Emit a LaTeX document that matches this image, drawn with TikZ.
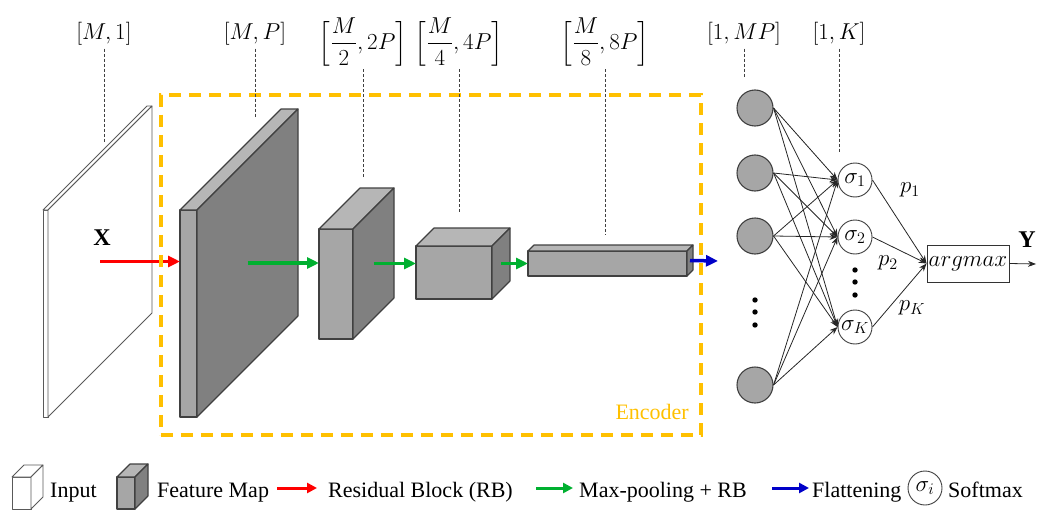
\documentclass[tikz,border=0pt]{standalone}
\usepackage{fix-cm}
\usepackage{amsmath}
\usepackage{fontspec}
\setmainfont{Liberation Serif}
\usetikzlibrary{
  arrows.meta,
  positioning,
  calc
}
\definecolor{encorange}{RGB}{255,192,0}
\definecolor{rbred}{RGB}{255,0,0}
\definecolor{mpgreen}{RGB}{0,176,48}
\definecolor{flblue}{RGB}{0,0,200}
\definecolor{frontgray}{RGB}{166,166,166}
\definecolor{topgray}{RGB}{182,182,182}
\definecolor{sidegray}{RGB}{128,128,128}
\definecolor{edgegray}{RGB}{64,64,64}
\newcommand{\mathsz}{\fontsize{23}{27}\selectfont}
\newcommand{\dimfrac}[2]{\delimiterfactor=700 \delimitershortfall=20pt
  \left[\dfrac{M}{#1},#2\right]}
\tikzset{
  face/.style={draw=edgegray, line width=1.1pt, line join=round},
  frontface/.style={face, inner sep=0pt, outer sep=0pt, anchor=north west},
  flowarr/.style={-{Triangle[length=12pt,width=11pt]}, line width=3.5pt},
  legarr/.style={-{Triangle[length=10pt,width=10pt]}, line width=3pt},
  guide/.style={dash pattern=on 3pt off 2pt, line width=0.7pt, black!75},
  dimlab/.style={font=\mathsz, inner sep=1pt},
  neuron/.style={circle, draw=edgegray, line width=1.1pt, fill=frontgray,
    minimum size=36pt, inner sep=0pt},
  softnode/.style={circle, draw=edgegray, line width=0.9pt, fill=white,
    minimum size=34pt, inner sep=0pt, font=\mathsz},
  nnedge/.style={-{Stealth[length=8pt,width=6pt]}, line width=0.8pt, black!85},
  legtext/.style={font=\fontsize{22}{26}\selectfont, inner sep=0pt, anchor=base west},
}
% front face as a named node, top and side faces drawn from its anchors
\newcommand{\cuboid}[9]{%
  \node[frontface, fill=#7, minimum width=#4pt, minimum height=#5pt] (#1) at (#2,#3) {};
  \filldraw[face, fill=#8] (#1.north west) -- ++(#6,-#6) -- ++(#4,0) -- (#1.north east) -- cycle;
  \filldraw[face, fill=#9] (#1.north east) -- ++(#6,-#6) -- ++(0,#5) -- (#1.south east) -- cycle;
  \coordinate (#1-out) at ($(#1.east)+(#6/2,-#6/2)$);
}

\begin{document}
\begin{tikzpicture}[x=1pt, y=-1pt]
  \useasboundingbox (0,0) rectangle (1044,511);

  % Input and feature maps
  \begin{scope}[face/.append style={draw=black!65, line width=0.8pt}]
    \cuboid{inp}{43}{210}{5}{207}{104}{white}{white}{white}
  \end{scope}
  \cuboid{fm1}{180}{210}{17}{207}{101}{frontgray}{topgray}{sidegray}
  \cuboid{fm2}{319}{229}{34}{110}{41}{frontgray}{topgray}{sidegray}
  \cuboid{fm3}{416}{246}{76}{53}{18}{frontgray}{topgray}{sidegray}
  \cuboid{fm4}{528}{251}{159}{25}{6}{frontgray}{topgray}{sidegray}

  \node[font=\fontsize{24}{28}\selectfont\bfseries] (xlab) at (102,238) {X};

  % Encoder flow
  \coordinate (flat-end) at (718,261);
  \draw[flowarr, rbred] (inp-out) -- (inp-out -| fm1.west);
  \foreach \a/\b in {fm1/fm2, fm2/fm3, fm3/fm4} {
    \draw[flowarr, mpgreen] (\a-out) -- (\a-out -| \b.west);
  }
  \draw[flowarr, flblue] (fm4-out) -- (flat-end);

  \node[draw=encorange, line width=3.5pt, dash pattern=on 12pt off 8pt,
        minimum width=540pt, minimum height=340pt, inner sep=0pt,
        anchor=north west] (enc) at (159,93) {};
  \node[font=\fontsize{22}{26}\selectfont, text=encorange, inner sep=0pt,
        anchor=base east] (enclab) at (689,419) {Encoder};

  % Shape labels
  \foreach \nm/\xx/\yy/\yend/\txt in {
      din/104/34/142/{$[M,1]$},
      dfm1/255/34/117/{$[M,P]$},
      dfm2/363/42/179/{$\dimfrac{2}{2P}$},
      dfm3/459/42/213/{$\dimfrac{4}{4P}$},
      dfm4/605/42/235/{$\dimfrac{8}{8P}$},
      dmp/744/34/77/{$[1,MP]$},
      dk/839/34/153/{$[1,K]$}} {
    \node[dimlab] (\nm) at (\xx,\yy) {\txt};
    \coordinate (\nm-end) at (\xx,\yend);
    \draw[guide] ([yshift=-2pt]\nm.south) -- (\nm-end);
  }

  % Dense layer
  \foreach \i/\yy in {1/108, 2/173, 3/236, 4/385} {
    \node[neuron] (n\i) at (755,\yy) {};
  }
  \foreach \yy in {300,312,325} {
    \fill (755,\yy) circle (2.7pt);
  }
  \node[softnode] (s1) at (855,180) {$\sigma_1$};
  \node[softnode] (s2) at (855,237) {$\sigma_2$};
  \node[softnode] (sK) at (855,327) {$\sigma_K$};
  \foreach \yy in {270,282,295} {
    \fill (855,\yy) circle (2.7pt);
  }
  \foreach \i in {1,...,4} {
    \foreach \j in {1,2,K} {
      \draw[nnedge] (n\i.east) -- (s\j.west);
    }
  }

  \node[draw=black!80, line width=0.9pt, minimum width=82pt, minimum height=37pt,
        inner sep=0pt, font=\mathsz] (am) at (968,263.5) {$argmax$};
  \foreach \j in {1,2,K} {
    \draw[nnedge] (s\j.east) -- (am.west);
  }
  \node[font=\mathsz] (p1) at (910,190) {$p_1$};
  \node[font=\mathsz] (p2) at (888,263) {$p_2$};
  \node[font=\mathsz] (pK) at (912,308) {$p_K$};

  \coordinate (y-end) at (1036,264);
  \draw[nnedge] (am.east) -- (y-end);
  \node[font=\fontsize{24}{28}\selectfont\bfseries] (ylab) at (1027,240) {Y};

  % Legend
  \begin{scope}[face/.append style={draw=black!65, line width=0.8pt}]
    \cuboid{lg-in}{12}{477}{19}{32}{12}{white}{white}{white}
  \end{scope}
  \node[legtext] (t-in) at (50,497) {Input};
  \cuboid{lg-fm}{117}{477}{18}{32}{13}{frontgray}{topgray}{sidegray}
  \node[legtext] (t-fm) at (157,497) {Feature Map};

  \coordinate (lr-a) at (277,488);
  \coordinate[right=40pt of lr-a] (lr-b);
  \draw[legarr, rbred] (lr-a) -- (lr-b);
  \node[legtext] (t-rb) at (328,497) {Residual Block (RB)};

  \coordinate (lg-a) at (536,488);
  \coordinate[right=37pt of lg-a] (lg-b);
  \draw[legarr, mpgreen] (lg-a) -- (lg-b);
  \node[legtext] (t-mp) at (579,497) {Max-pooling + RB};

  \coordinate (lb-a) at (772,488);
  \coordinate[right=37pt of lb-a] (lb-b);
  \draw[legarr, flblue] (lb-a) -- (lb-b);
  \node[legtext] (t-fl) at (812,497) {Flattening};

  \node[softnode] (lg-s) at (925,488) {$\sigma_i$};
  \node[legtext] (t-sm) at (948,497) {Softmax};
\end{tikzpicture}
\end{document}
